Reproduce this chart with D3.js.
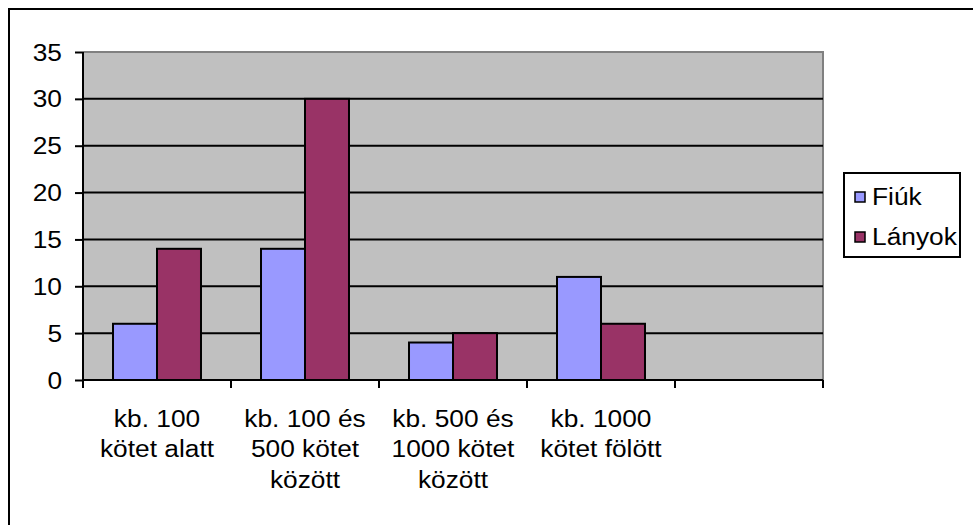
<!DOCTYPE html>
<html><head><meta charset="utf-8">
<script src="https://cdn.jsdelivr.net/npm/d3@7"></script>
<style>
html,body{margin:0;padding:0;background:#fff;overflow:hidden}
text{font-family:"Liberation Sans",Arial,sans-serif;fill:#000}
</style></head>
<body>
<svg id="chart" width="973" height="525"></svg>
<script>
const categories = [["kb. 100","kötet alatt"],["kb. 100 és","500 kötet","között"],["kb. 500 és","1000 kötet","között"],["kb. 1000","kötet fölött"],[""]];
const seriesNames = ["Fiúk","Lányok"];
const fiuk = [6,14,4,11,null];
const lanyok = [14,30,5,6,null];
const yTicks = [0,5,10,15,20,25,30,35];
const colors = ["#9999FF","#993366"];

const svg = d3.select("#chart");
const FS = 23.5, SX = 1.12;
const plot = {left:83, right:823, top:52, bottom:380};

// outer frame
svg.append("rect").attr("x",9).attr("y",9).attr("width",1000).attr("height",600)
  .attr("fill","#fff").attr("stroke","#000").attr("stroke-width",2);

const keys = categories.map((c,i)=>"c"+i);
const x = d3.scaleBand().domain(keys).range([plot.left,plot.right]).paddingInner(0).paddingOuter(0);
const xs = d3.scaleBand().domain(seriesNames).range([0,x.bandwidth()]).paddingInner(0).paddingOuter(0.682);
const y = d3.scaleLinear().domain([0,35]).range([plot.bottom,plot.top]);

// plot background
svg.append("rect").attr("x",plot.left).attr("y",plot.top)
  .attr("width",plot.right-plot.left).attr("height",plot.bottom-plot.top).attr("fill","#C0C0C0");
// gray border top & right
svg.append("path").attr("d",`M${plot.left},${plot.top}H${plot.right}V${plot.bottom}`)
  .attr("fill","none").attr("stroke","#808080").attr("stroke-width",2);

// gridlines
svg.append("g").selectAll("line").data(yTicks.filter(t=>t>0 && t<35)).join("line")
  .attr("x1",plot.left).attr("x2",plot.right).attr("y1",d=>y(d)).attr("y2",d=>y(d))
  .attr("stroke","#000").attr("stroke-width",2);

// bars
const data = [fiuk,lanyok];
data.forEach((vals,si)=>{
  svg.append("g").selectAll("rect").data(vals.map((v,i)=>({v,i})).filter(d=>d.v!=null)).join("rect")
    .attr("x",d=>x(keys[d.i])+xs(seriesNames[si]))
    .attr("y",d=>y(d.v))
    .attr("width",xs.bandwidth())
    .attr("height",d=>y(0)-y(d.v))
    .attr("fill",colors[si]).attr("stroke","#000").attr("stroke-width",2);
});

// y axis
const yAxis = d3.axisLeft(y).tickValues(yTicks).tickSize(8).tickPadding(13);
const gy = svg.append("g").attr("transform",`translate(${plot.left},0)`).call(yAxis);
gy.select(".domain").attr("stroke","#000").attr("stroke-width",2).attr("d",`M0,${plot.top}V${plot.bottom}`);
gy.selectAll(".tick line").attr("stroke","#000").attr("stroke-width",2);
gy.selectAll(".tick text").attr("font-size",FS).attr("dy",null).attr("y",8)
  .attr("font-family","Liberation Sans, Arial, sans-serif").attr("fill","#000")
  .attr("transform",function(){const tx=+d3.select(this).attr("x");return `translate(${tx},0) scale(${SX},1) translate(${-tx},0)`;});

// x axis
const xAxis = d3.axisBottom(x).tickSize(0).tickFormat("");
const gx = svg.append("g").attr("transform",`translate(0,${plot.bottom})`).call(xAxis);
gx.select(".domain").attr("stroke","#000").attr("stroke-width",2).attr("d",`M${plot.left},0H${plot.right}`);
gx.selectAll(".tick").remove();
// category boundary ticks
const bounds = keys.map(k=>x(k)).concat([x(keys[keys.length-1])+x.bandwidth()]);
gx.selectAll("line.b").data(bounds).join("line").attr("class","b")
  .attr("x1",d=>d).attr("x2",d=>d).attr("y1",0).attr("y2",8).attr("stroke","#000").attr("stroke-width",2);

// category labels
const lab = svg.append("g");
categories.forEach((lines,i)=>{
  const cx = x(keys[i])+x.bandwidth()/2;
  const t = lab.append("text").attr("text-anchor","middle").attr("font-size",FS)
    .attr("transform",`translate(${cx},0) scale(${SX},1)`);
  lines.forEach((ln,j)=>{
    t.append("tspan").attr("x",0).attr("y",427+j*30.5).text(ln);
  });
});

// legend
const lg = svg.append("g");
lg.append("rect").attr("x",844).attr("y",173).attr("width",116).attr("height",84)
  .attr("fill","#fff").attr("stroke","#000").attr("stroke-width",2);
seriesNames.forEach((s,i)=>{
  const yy = 205+i*40;
  lg.append("rect").attr("x",855).attr("y",yy-13).attr("width",10).attr("height",10)
    .attr("fill",colors[i]).attr("stroke","#000").attr("stroke-width",1.5);
  lg.append("text").attr("font-size",FS).attr("transform",`translate(872,${yy}) scale(${SX},1)`).text(s);
});
</script>
</body></html>
